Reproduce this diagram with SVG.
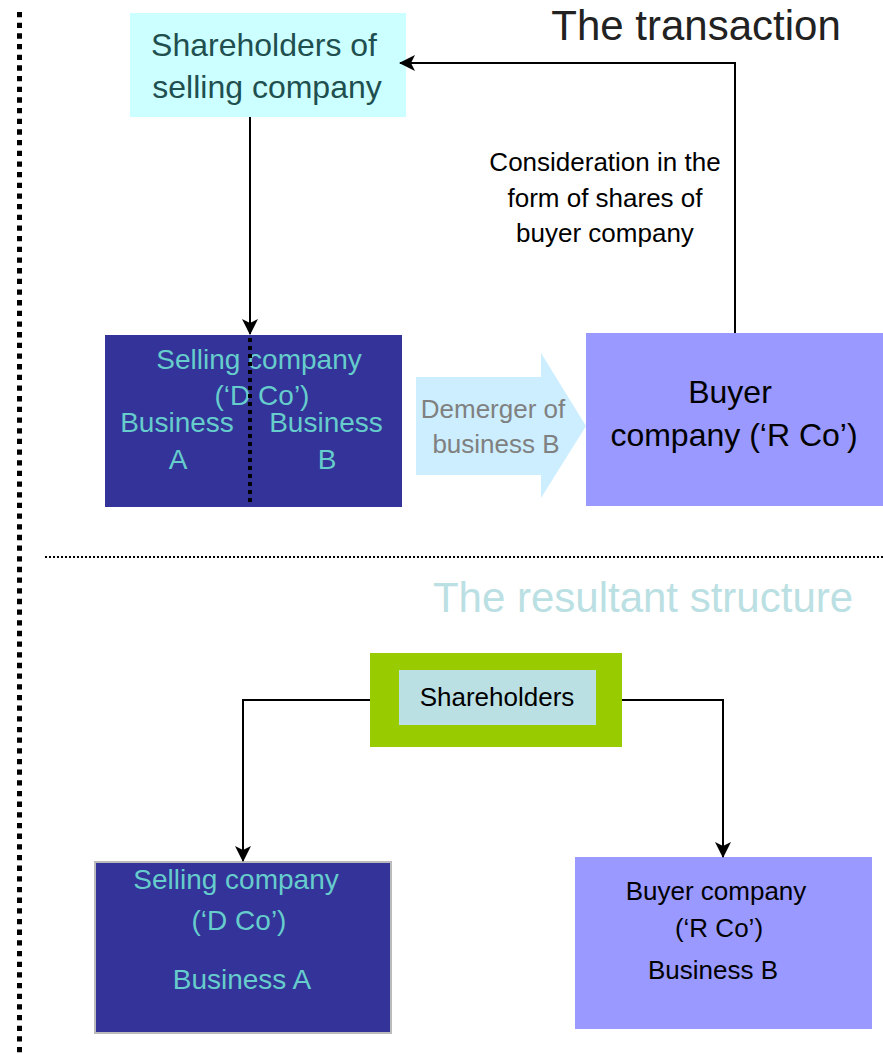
<svg xmlns="http://www.w3.org/2000/svg" width="883" height="1054" viewBox="0 0 883 1054">
<style>
text{font-family:"Liberation Sans",Arial,sans-serif;text-anchor:middle}
.teal{fill:#66CCCC}
.conn{fill:none;stroke:#000;stroke-width:2}
</style>
<defs>
<marker id="ah" viewBox="0 0 16 16" refX="15" refY="8" markerWidth="16" markerHeight="16" markerUnits="userSpaceOnUse" orient="auto">
<path d="M0,0 L16,8 L0,16 L4,8 Z" fill="#000"/>
</marker>
</defs>
<rect width="883" height="1054" fill="#fff"/>
<g id="dividers">
<line x1="19.5" y1="12" x2="19.5" y2="1054" stroke="#000" stroke-width="5" stroke-dasharray="5.3 5.37"/>
<line x1="45" y1="557" x2="883" y2="557" stroke="#000" stroke-width="2" stroke-dasharray="2 2"/>
</g>
<g id="title-transaction"><text x="696" y="40" font-size="42" fill="#222">The transaction</text></g>
<g id="title-result"><text x="643" y="612" font-size="42" fill="#BBE0E3">The resultant structure</text></g>
<g id="shareholders-selling">
<rect x="130" y="13" width="276" height="104" fill="#CCFFFF"/>
<text x="264" y="56" font-size="32" fill="#1F4F4F">Shareholders of</text>
<text x="267" y="98" font-size="32" fill="#1F4F4F">selling company</text>
</g>
<g id="dco-top">
<rect x="105" y="335" width="297" height="172" fill="#333399"/>
<text x="259" y="369" font-size="28" class="teal">Selling company</text>
<text x="262" y="405" font-size="28" class="teal">(‘D Co’)</text>
<text x="177" y="432" font-size="28" class="teal">Business</text>
<text x="178" y="469" font-size="28" class="teal">A</text>
<text x="326" y="432" font-size="28" class="teal">Business</text>
<text x="327" y="469" font-size="28" class="teal">B</text>
<line x1="250" y1="338" x2="250" y2="505" stroke="#000" stroke-width="4" stroke-dasharray="4 4"/>
</g>
<g id="demerger">
<path d="M416,377 L541,377 L541,353 L586,426 L541,498 L541,475 L416,475 Z" fill="#CCEEFF"/>
<text x="493" y="418" font-size="26" fill="#808080">Demerger of</text>
<text x="496" y="453" font-size="26" fill="#808080">business B</text>
</g>
<g id="rco-top">
<rect x="586" y="333" width="297" height="173" fill="#9999FF"/>
<text x="730" y="403" font-size="32" fill="#000">Buyer</text>
<text x="734" y="446" font-size="32" fill="#000">company (‘R Co’)</text>
</g>
<g id="consideration-label">
<text x="605" y="171" font-size="26" fill="#000">Consideration in the</text>
<text x="605" y="207" font-size="26" fill="#000">form of shares of</text>
<text x="605" y="242" font-size="26" fill="#000">buyer company</text>
</g>
<g id="shareholders">
<rect x="370" y="653" width="252" height="94" fill="#99CC00"/>
<rect x="399" y="670" width="197" height="55" fill="#BBE0E3"/>
<text x="497" y="706" font-size="26" fill="#000">Shareholders</text>
</g>
<g id="dco-bottom">
<rect x="95" y="862" width="296" height="171" fill="#333399" stroke="#BBBBBB" stroke-width="2"/>
<text x="236" y="889" font-size="28" class="teal">Selling company</text>
<text x="239" y="930" font-size="28" class="teal">(‘D Co’)</text>
<text x="242" y="989" font-size="28" class="teal">Business A</text>
</g>
<g id="rco-bottom">
<rect x="575" y="857" width="297" height="172" fill="#9999FF"/>
<text x="716" y="900" font-size="26" fill="#000">Buyer company</text>
<text x="719" y="937" font-size="26" fill="#000">(‘R Co’)</text>
<text x="713" y="979" font-size="26" fill="#000">Business B</text>
</g>
<g id="connectors">
<path class="conn" d="M250,117 L250,334" marker-end="url(#ah)"/>
<path class="conn" d="M735,333 L735,63 L400,63" marker-end="url(#ah)"/>
<path class="conn" d="M370,700 L243,700 L243,861" marker-end="url(#ah)"/>
<path class="conn" d="M622,700 L723,700 L723,857" marker-end="url(#ah)"/>
</g>
</svg>
